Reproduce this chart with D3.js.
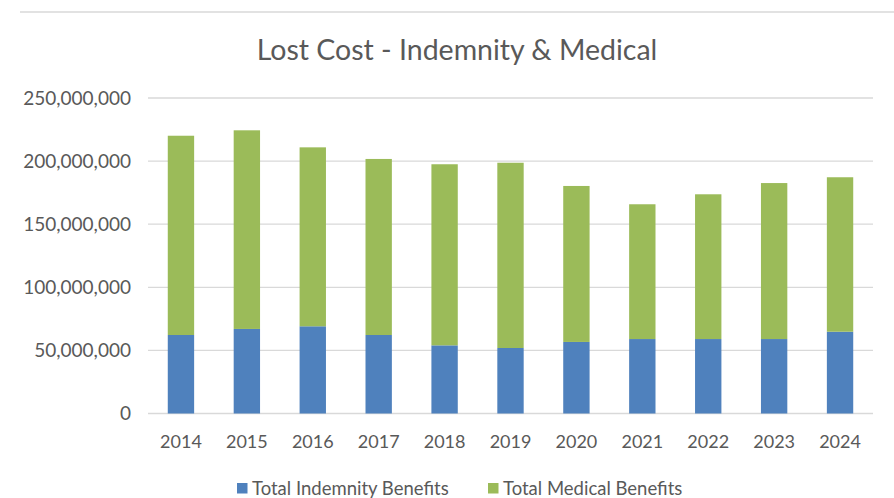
<!DOCTYPE html>
<html><head><meta charset="utf-8">
<script src="https://cdn.jsdelivr.net/npm/d3@7"></script>
<style>body{margin:0;background:#fff}svg{display:block}</style>
</head><body>
<svg id="c" width="894" height="498"></svg>
<script>
const years = ["2014","2015","2016","2017","2018","2019","2020","2021","2022","2023","2024"];
const indemnity = [62.2e6,67.0e6,69.1e6,62.2e6,54.0e6,51.9e6,56.7e6,59.0e6,59.0e6,59.0e6,64.8e6];
const medical = [157.9e6,157.4e6,141.8e6,139.5e6,143.5e6,146.8e6,123.6e6,106.8e6,114.7e6,123.6e6,122.4e6];
const yTicks = [0,50e6,100e6,150e6,200e6,250e6];
const seriesNames = ["Total Indemnity Benefits","Total Medical Benefits"];
const colors = ["#4F81BD","#9BBB59"];
const title = "Lost Cost - Indemnity & Medical";

const svg = d3.select("#c");
const font = "Lato, 'Open Sans', sans-serif";
const textColor = "#595959";

svg.append("line").attr("x1",20).attr("x2",894).attr("y1",12).attr("y2",12)
  .attr("stroke","#d9d9d9").attr("stroke-width",1.5);

const x = d3.scaleBand().domain(years).range([148,873]).paddingInner(0.6).paddingOuter(0.3);
const y = d3.scaleLinear().domain([0,250e6]).range([413.5,98]);

// gridlines
svg.append("g").selectAll("line").data(yTicks).join("line")
  .attr("x1",148).attr("x2",873)
  .attr("y1",d=>y(d)).attr("y2",d=>y(d))
  .attr("stroke","#d9d9d9").attr("stroke-width",1.3);

// stacked data
const table = years.map((yr,i)=>({year:yr, ind:indemnity[i], med:medical[i]}));
const stack = d3.stack().keys(["ind","med"])(table);
svg.append("g").selectAll("g").data(stack).join("g")
  .attr("fill",(d,i)=>colors[i])
  .selectAll("rect").data(d=>d).join("rect")
  .attr("x",d=>x(d.data.year)).attr("width",x.bandwidth())
  .attr("y",d=>y(d[1])).attr("height",d=>y(d[0])-y(d[1]));

// y axis
const yAxis = d3.axisLeft(y).tickValues(yTicks).tickFormat(d3.format(",")).tickSize(0).tickPadding(0);
const ga = svg.append("g").attr("transform","translate(131,0)").call(yAxis);
ga.select(".domain").remove();
ga.selectAll("text").attr("font-family",font).attr("font-size",19).attr("fill",textColor);

// x axis
const xAxis = d3.axisBottom(x).tickSize(0).tickPadding(0);
const gx = svg.append("g").attr("transform","translate(0,0)").call(xAxis);
gx.select(".domain").remove();
gx.selectAll("text").attr("font-family",font).attr("font-size",18).attr("fill",textColor)
  .attr("dy",null).attr("y",448);

// title
svg.append("text").attr("x",457).attr("y",60).attr("text-anchor","middle")
  .attr("font-family",font).attr("font-size",28.5).attr("fill",textColor).text(title);

// legend
const legX = [237,488];
const lg = svg.append("g").selectAll("g").data(seriesNames).join("g")
  .attr("transform",(d,i)=>`translate(${legX[i]},0)`);
lg.append("rect").attr("x",0).attr("y",483).attr("width",10.5).attr("height",10.5).attr("fill",(d,i)=>colors[i]);
lg.append("text").attr("x",15).attr("y",494.5).attr("font-family",font).attr("font-size",18.5)
  .attr("fill",textColor).text(d=>d);
</script>
</body></html>
